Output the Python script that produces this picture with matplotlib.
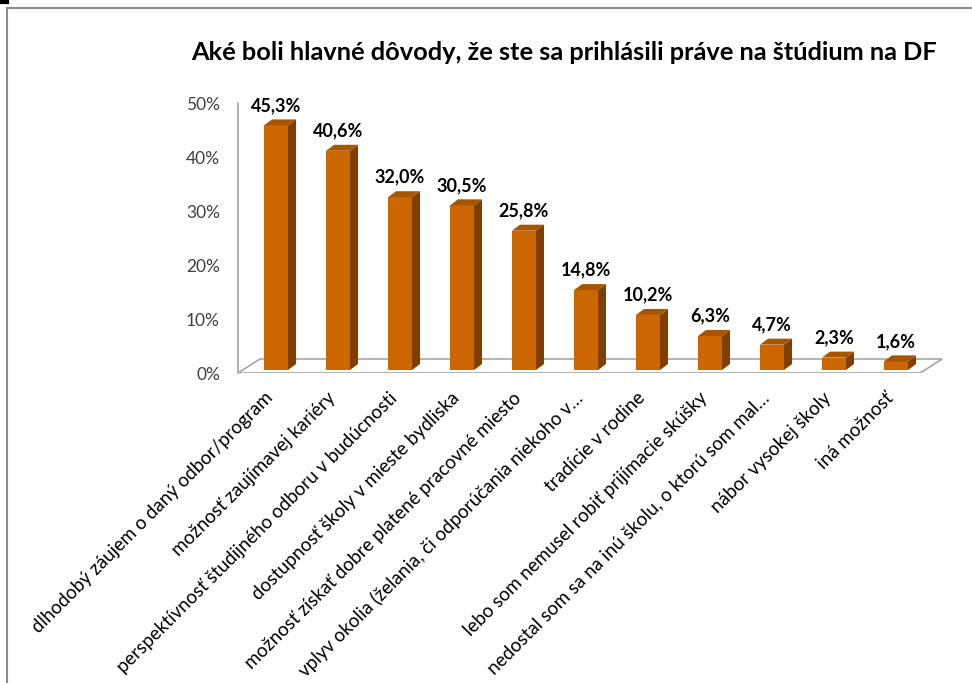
import matplotlib.pyplot as plt
import numpy as np
from matplotlib.patches import Polygon
from matplotlib.lines import Line2D

plt.rcParams['font.family'] = ['Lato', 'DejaVu Sans']

# data
categories = [
    "dlhodobý záujem o daný odbor/program",
    "možnosť zaujímavej kariéry",
    "perspektívnosť študijného odboru v budúcnosti",
    "dostupnosť školy v mieste bydliska",
    "možnosť získať dobre platené pracovné miesto",
    "vplyv okolia (želania, či odporúčania niekoho v…",
    "tradície v rodine",
    "lebo som nemusel robiť prijímacie skúšky",
    "nedostal som sa na inú školu, o ktorú som mal…",
    "nábor vysokej školy",
    "iná možnosť",
]
values = [45.3, 40.6, 32.0, 30.5, 25.8, 14.8, 10.2, 6.3, 4.7, 2.3, 1.6]
yticks = [0, 10, 20, 30, 40, 50]
title = "Aké boli hlavné dôvody, že ste sa prihlásili práve na štúdium na DF"

front = "#CC6600"
side = "#7F3F00"
top = "#A85500"
grey = "#A6A6A6"

W, H = 972, 683
fig = plt.figure(figsize=(W / 100, H / 100), dpi=100)

# axes placed so that one category = 62 px, 10% = 54 px
x0_px, y0_px = 238, 373
xmin, xmax = -0.613, 10.8
px_x = 62.0
px_y = 5.4
ax = fig.add_axes([x0_px / W, (H - y0_px) / H,
                   (xmax - xmin) * px_x / W, 50 * px_y / H])
ax.set_xlim(xmin, xmax)
ax.set_ylim(0, 50)

# 3d depth of bars and floor, converted from pixels to data units
bdx, bdy = 8 / px_x, 6 / px_y
fdx, fdy = 22 / px_x, 14 / px_y
bw = 24 / px_x
xs = np.arange(len(values))

# floor
floor_right = 10.39
ax.add_patch(Polygon([(xmin, 0), (floor_right, 0), (floor_right + fdx, fdy), (xmin + fdx, fdy)],
                     closed=True, facecolor="white", edgecolor=grey, lw=1.2, zorder=1))

base = 0.55
for x, v in zip(xs, values):
    l, r = x - bw / 2, x + bw / 2
    ax.bar(x, v, width=bw, bottom=base, color=front, edgecolor="none", zorder=3)
    ax.add_patch(Polygon([(r, base), (r + bdx, base + bdy), (r + bdx, base + v + bdy), (r, base + v)],
                         closed=True, facecolor=side, edgecolor="none", zorder=3))
    ax.add_patch(Polygon([(l, base + v), (r, base + v), (r + bdx, base + v + bdy), (l + bdx, base + v + bdy)],
                         closed=True, facecolor=top, edgecolor="none", zorder=3))
    ax.annotate(f"{v:.1f}%".replace(".", ","), (x, base + v + bdy), xytext=(0, 4),
                textcoords="offset points", ha="center", va="bottom",
                fontsize=13, fontweight="bold", color="black", zorder=4)

for s in ["top", "right", "bottom"]:
    ax.spines[s].set_visible(False)
ax.spines["left"].set_color(grey)
ax.spines["left"].set_linewidth(1.2)
ax.set_yticks(yticks)
ax.set_yticklabels([f"{t}%" for t in yticks], fontsize=12.5, color="#404040")
ax.tick_params(axis="y", length=0, pad=13)
ax.set_xticks([])

for x, lab in zip(xs, categories):
    ax.annotate(lab, (x, 0), xytext=(-4, -16), textcoords="offset points",
                rotation=45, rotation_mode="anchor", ha="right", va="center",
                fontsize=13.5, color="black", annotation_clip=False)

fig.text(564 / W, 1 - 52 / H, title, ha="center", va="center",
         fontsize=18.3, fontweight="bold", color="black")

# frame lines around the chart area
fig.add_artist(Line2D([7 / W, 1], [1 - 8 / H, 1 - 8 / H], color="#8C8C8C", lw=1.5))
fig.add_artist(Line2D([7 / W, 7 / W], [0, 1 - 8 / H], color="#8C8C8C", lw=1.5))
fig.add_artist(Line2D([0, 7 / W], [1 - 1.5 / H, 1 - 1.5 / H], color="black", lw=3))

fig.savefig("out.png", dpi=100)
